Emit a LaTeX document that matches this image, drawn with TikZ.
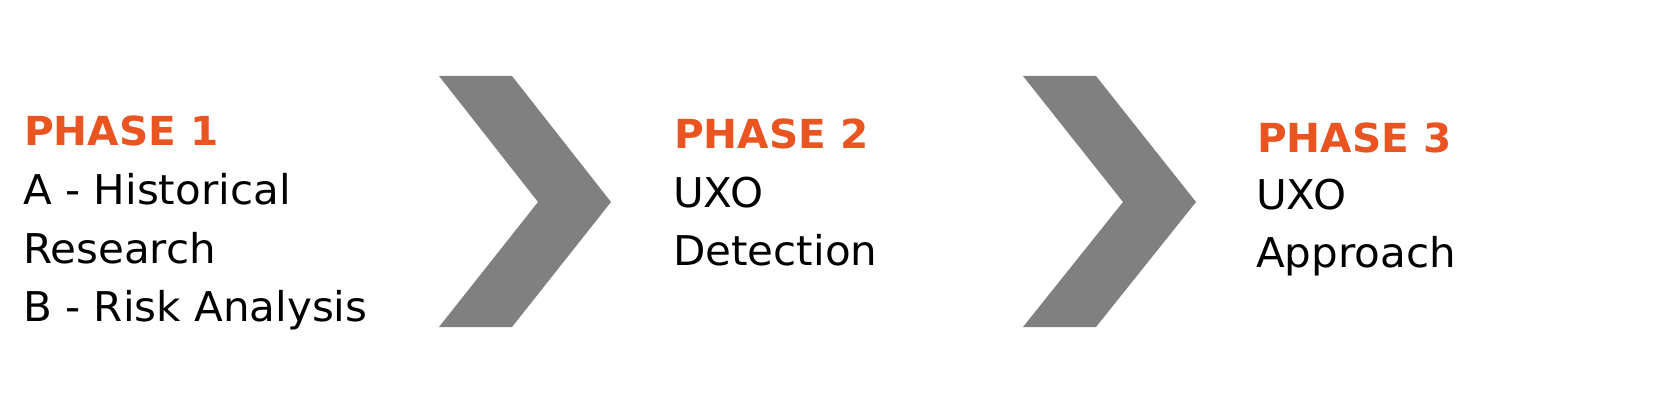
\documentclass[tikz,border=0pt]{standalone}
\usepackage{fontspec}
\setmainfont[FakeStretch=1.025,BoldFeatures={FakeStretch=1.015}]{DejaVu Sans}
\definecolor{phaseorange}{HTML}{E95420}
\definecolor{chevgray}{HTML}{808080}
\begin{document}
\begin{tikzpicture}[x=1pt,y=-1pt,
  title/.style={anchor=base west,inner sep=0pt,text=phaseorange,font=\fontsize{40}{48}\selectfont\bfseries},
  body/.style={anchor=base west,inner sep=0pt,text=black,font=\fontsize{41}{49}\selectfont},
  chev/.style={fill=chevgray}]
\useasboundingbox[fill=white] (0,0) rectangle (1667,417);
% chevrons
\fill[chev] (439,76) -- (512,76) -- (611,202) -- (512,327) -- (439,327) -- (538,202) -- cycle;
\fill[chev] (1023,76) -- (1096,76) -- (1196,202) -- (1096,327) -- (1023,327) -- (1123,202) -- cycle;
% phase 1
\node[title] (p1) at (24,146) {PHASE 1};
\node[body] (p1a) at (23,204) {A - Historical};
\node[body] (p1b) at (23,263) {Research};
\node[body] (p1c) at (23,321) {B - Risk Analysis};
% phase 2
\node[title] (p2) at (674,149) {PHASE 2};
\node[body] (p2a) at (673,207) {UXO};
\node[body] (p2b) at (673,265) {Detection};
% phase 3
\node[title] (p3) at (1257,152) {PHASE 3};
\node[body] (p3a) at (1256,209) {UXO};
\node[body] (p3b) at (1256,267) {Approach};
\end{tikzpicture}
\end{document}
